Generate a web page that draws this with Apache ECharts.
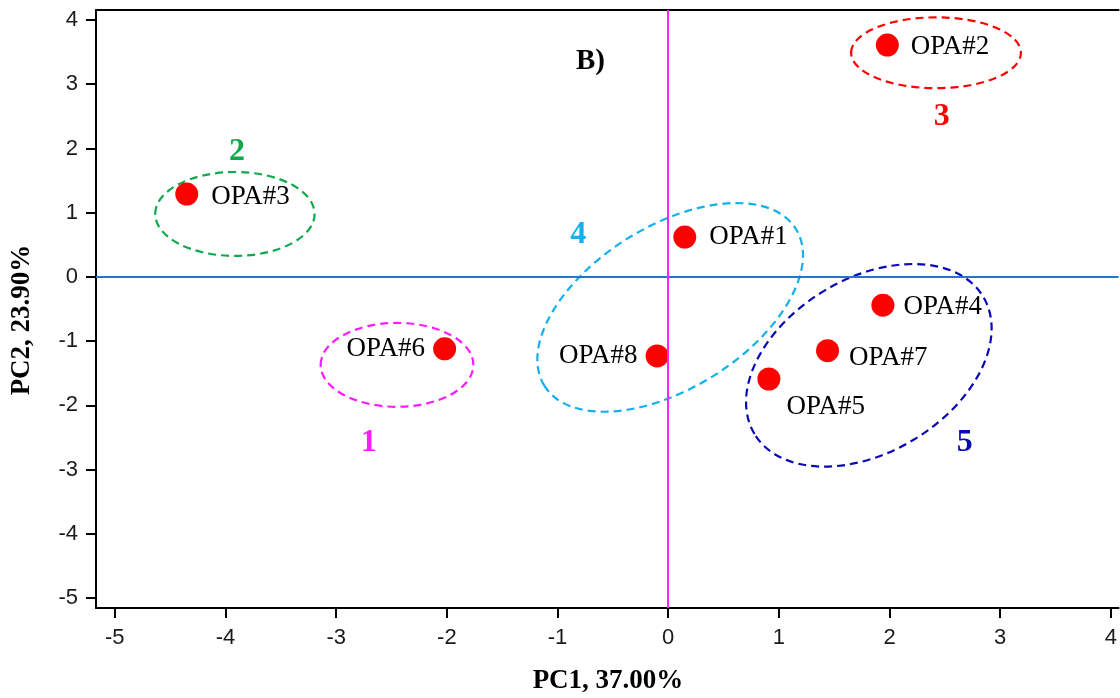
<!DOCTYPE html>
<html>
<head>
<meta charset="utf-8">
<script src="https://cdn.jsdelivr.net/npm/echarts@6/dist/echarts.min.js"></script>
<style>html,body{margin:0;padding:0;background:#fff}#c{width:1120px;height:698px}</style>
</head>
<body>
<div id="c"></div>
<script>
// ---- data ----
var sampleNames = ['OPA#1','OPA#2','OPA#3','OPA#4','OPA#5','OPA#6','OPA#7','OPA#8'];
var pc1Values   = [0.15, 1.98, -4.35, 1.94, 0.91, -2.02, 1.44, -0.10];
var pc2Values   = [0.62, 3.61, 1.29, -0.44, -1.59, -1.12, -1.15, -1.23];
var xTicks = [-5,-4,-3,-2,-1,0,1,2,3,4];
var yTicks = [-5,-4,-3,-2,-1,0,1,2,3,4];
// cluster ellipses: centre (pc1, pc2), semi-axes (in PC1 units), tilt (deg)
var clusterIds    = ['1','2','3','4','5'];
var clusterCx     = [-2.45, -3.915, 2.42, 0.018, 1.813];
var clusterCy     = [-1.37, 0.98, 3.49, -0.475, -1.377];
var clusterA      = [0.69, 0.72, 0.767, 1.339, 1.205];
var clusterB      = [0.379, 0.379, 0.320, 0.732, 0.785];
var clusterTilt   = [0, 0, 0, 32, 31];
var clusterLabelX = [-2.706, -3.897, 2.472, -0.812, 2.679];
var clusterLabelY = [-2.59, 1.945, 2.49, 0.66, -2.59];

// ---- styles ----
var clusterColors = ['#ff1aff', '#10a84c', '#ff0000', '#12b0ec', '#0a0ab4'];
var labelPlace = {
  'OPA#1': {position:'right', distance:13, offset:[0,0]},
  'OPA#2': {position:'right', distance:12, offset:[0,2]},
  'OPA#3': {position:'right', distance:13, offset:[0,3]},
  'OPA#4': {position:'right', distance:9,  offset:[0,2]},
  'OPA#5': {position:'right', distance:12, offset:[-6,28]},
  'OPA#6': {position:'left',  distance:8,  offset:[0,0]},
  'OPA#7': {position:'right', distance:10, offset:[0,7]},
  'OPA#8': {position:'left',  distance:8,  offset:[0,0]}
};

var pointData = sampleNames.map(function(n, i){
  var p = labelPlace[n];
  return {name:n, value:[pc1Values[i], pc2Values[i]],
    label:{position:p.position, distance:p.distance, offset:p.offset}};
});
var ellipseData = clusterIds.map(function(id, i){
  return [clusterCx[i], clusterCy[i], clusterA[i], clusterB[i], clusterTilt[i], i];
});
var clusterLabelData = clusterIds.map(function(id, i){
  return [clusterLabelX[i], clusterLabelY[i], i];
});

var XMIN = -5.17, XMAX = 4.07, YMIN = -5.156, YMAX = 4.156;
var tickFont = {color:'#1a1a1a', fontSize:22, fontFamily:'Liberation Sans, Arial, sans-serif'};
var serif = '"Liberation Serif", "Times New Roman", serif';

var chart = echarts.init(document.getElementById('c'), null, {renderer:'canvas'});
chart.setOption({
  animation:false,
  backgroundColor:'#fff',
  grid:{left:96, right:0, top:10, bottom:90, containLabel:false},
  xAxis:[{
    type:'value', min:XMIN, max:XMAX, position:'bottom',
    axisLine:{show:true, onZero:false, lineStyle:{color:'#000', width:2}},
    axisTick:{show:true, length:10, inside:false, customValues:xTicks, lineStyle:{color:'#000', width:2}},
    axisLabel:Object.assign({margin:19, customValues:xTicks}, tickFont),
    splitLine:{show:false}
  },{
    type:'value', min:XMIN, max:XMAX, position:'top',
    axisLine:{show:true, onZero:false, lineStyle:{color:'#000', width:2}},
    axisTick:{show:false}, axisLabel:{show:false}, splitLine:{show:false}
  }],
  yAxis:{
    type:'value', min:YMIN, max:YMAX,
    axisLine:{show:true, onZero:false, lineStyle:{color:'#000', width:2}},
    axisTick:{show:true, length:10, customValues:yTicks, lineStyle:{color:'#000', width:2}},
    axisLabel:Object.assign({margin:18, customValues:yTicks}, tickFont),
    splitLine:{show:false}
  },
  graphic:[
    {type:'text', left:576, top:47, style:{text:'B)', font:'bold 29px ' + serif, fill:'#000'}},
    {type:'text', x:608, y:681, style:{text:'PC1, 37.00%', font:'bold 27px ' + serif, fill:'#000', align:'center', verticalAlign:'middle'}},
    {type:'text', x:22, y:320, rotation:Math.PI/2, style:{text:'PC2, 23.90%', font:'bold 27px ' + serif, fill:'#000', align:'center', verticalAlign:'middle'}}
  ],
  series:[
    {
      type:'line', data:[], silent:true, xAxisIndex:0,
      markLine:{
        silent:true, symbol:'none', label:{show:false},
        data:[
          {yAxis:0, lineStyle:{color:'#1f78cf', width:2, type:'solid'}},
          {xAxis:0, lineStyle:{color:'#ff22ff', width:2, type:'solid'}}
        ]
      }
    },
    {
      type:'custom', silent:true, xAxisIndex:0, data:ellipseData,
      encode:{x:0, y:1},
      renderItem:function(params, api){
        var c = api.coord([api.value(0), api.value(1)]);
        var px = api.size([1, 0])[0];
        var idx = api.value(5);
        return {
          type:'ellipse', x:c[0], y:c[1], rotation:api.value(4)*Math.PI/180,
          shape:{cx:0, cy:0, rx:api.value(2)*px, ry:api.value(3)*px},
          style:{fill:'none', stroke:clusterColors[idx], lineWidth:2.2, lineDash:[8,5]}
        };
      }
    },
    {
      type:'custom', silent:true, xAxisIndex:0, data:clusterLabelData,
      encode:{x:0, y:1},
      renderItem:function(params, api){
        var c = api.coord([api.value(0), api.value(1)]);
        var idx = api.value(2);
        return {
          type:'text', x:c[0], y:c[1],
          style:{text:clusterIds[idx], font:'bold 32px ' + serif, fill:clusterColors[idx], align:'center', verticalAlign:'middle'}
        };
      }
    },
    {
      type:'scatter', xAxisIndex:0, data:pointData, symbol:'circle', symbolSize:23,
      itemStyle:{color:'#ff0000', opacity:1},
      label:{show:true, formatter:'{b}', color:'#000', fontSize:27, fontFamily:serif}
    }
  ]
});
</script>
</body>
</html>
